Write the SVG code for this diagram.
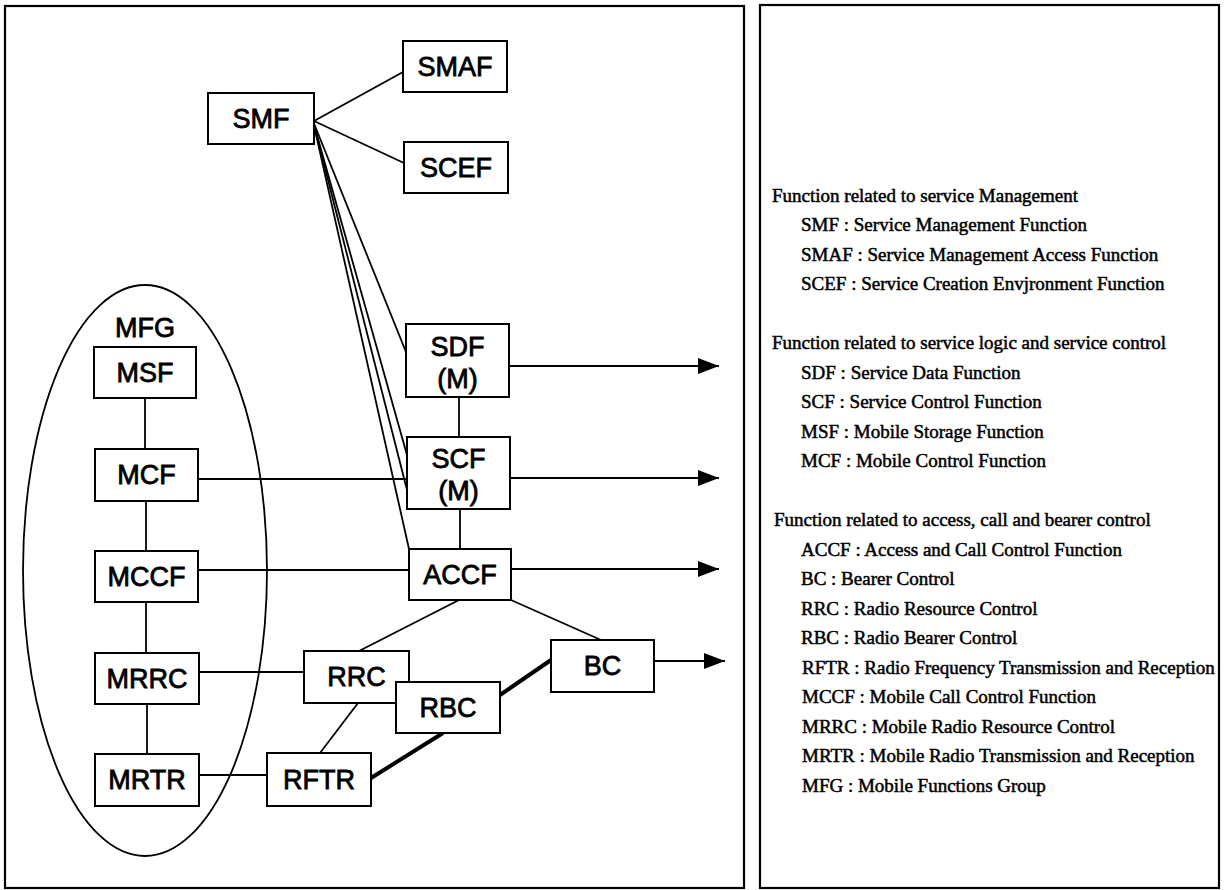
<svg xmlns="http://www.w3.org/2000/svg" width="1226" height="890" viewBox="0 0 1226 890">
<defs>
<marker id="arr" markerUnits="userSpaceOnUse" markerWidth="21" markerHeight="16" refX="21" refY="8" orient="auto">
<path d="M0,0 L21,8 L0,16 z" fill="#000"/>
</marker>
<style>
.panel{fill:none;stroke:#000;stroke-width:2.2}
.box{fill:#fff;stroke:#000;stroke-width:2}
.nt{font-family:"Liberation Sans",Arial,sans-serif;font-size:27px;text-anchor:middle;fill:#000;stroke:#000;stroke-width:0.8}
.ln{stroke:#000;stroke-width:1.8;fill:none}
.thick{stroke:#000;stroke-width:4;fill:none}
.ar{stroke:#000;stroke-width:2.2;fill:none;marker-end:url(#arr)}
.lg{font-family:"Liberation Serif","Times New Roman",serif;font-size:19px;fill:#000;stroke:#000;stroke-width:0.5}
</style>
</defs>
<rect fill="#fff" x="0" y="0" width="1226" height="890"/>
<g id="panels">
<rect class="panel" x="5" y="6" width="739" height="882"/>
<rect class="panel" x="760" y="5" width="459" height="883"/>
</g>
<g id="mfg">
<ellipse cx="145" cy="570.5" rx="122" ry="285.5" fill="none" stroke="#000" stroke-width="1.8"/>
<text class="nt" x="145" y="337">MFG</text>
</g>
<g id="connectors">
<line class="ln" x1="314" y1="121" x2="403" y2="72"/>
<line class="ln" x1="314" y1="121" x2="404" y2="163"/>
<line class="ln" x1="313" y1="121" x2="406" y2="352"/>
<line class="ln" x1="313" y1="121" x2="407" y2="455"/>
<line class="ln" x1="313" y1="121" x2="407" y2="490"/>
<line class="ln" x1="313" y1="121" x2="409" y2="549"/>
<line class="ln" x1="145" y1="398" x2="145" y2="449"/>
<line class="ln" x1="146" y1="501" x2="146" y2="551"/>
<line class="ln" x1="146" y1="602" x2="146" y2="653"/>
<line class="ln" x1="147" y1="704" x2="147" y2="754"/>
<line class="ln" x1="459" y1="397" x2="459" y2="437"/>
<line class="ln" x1="460" y1="509" x2="460" y2="549"/>
<line class="ln" x1="198" y1="479" x2="407" y2="479"/>
<line class="ln" x1="198" y1="570" x2="409" y2="570"/>
<line class="ln" x1="199" y1="672" x2="304" y2="672"/>
<line class="ln" x1="199" y1="775" x2="267" y2="775"/>
<line class="ln" x1="459" y1="600" x2="359" y2="651"/>
<line class="ln" x1="511" y1="600" x2="601" y2="640"/>
<line class="ln" x1="358" y1="703" x2="320" y2="753"/>
<line class="thick" x1="443" y1="733" x2="371" y2="778"/>
<line class="thick" x1="500" y1="695" x2="551" y2="660"/>
<line class="ar" x1="509" y1="366" x2="719" y2="366"/>
<line class="ar" x1="510" y1="478" x2="719" y2="478"/>
<line class="ar" x1="511" y1="569" x2="719" y2="569"/>
<line class="ar" x1="654" y1="661" x2="725" y2="661"/>
</g>
<g id="smf"><rect class="box" x="208" y="93" width="106" height="51"/><text class="nt" x="261" y="128">SMF</text></g>
<g id="smaf"><rect class="box" x="403" y="41" width="104" height="51"/><text class="nt" x="455" y="76">SMAF</text></g>
<g id="scef"><rect class="box" x="404" y="142" width="104" height="51"/><text class="nt" x="456" y="177">SCEF</text></g>
<g id="msf"><rect class="box" x="94" y="347" width="102" height="51"/><text class="nt" x="145" y="382">MSF</text></g>
<g id="mcf"><rect class="box" x="95" y="449" width="103" height="52"/><text class="nt" x="146.5" y="484">MCF</text></g>
<g id="mccf"><rect class="box" x="95" y="551" width="103" height="51"/><text class="nt" x="146.5" y="586">MCCF</text></g>
<g id="mrrc"><rect class="box" x="95" y="653" width="104" height="51"/><text class="nt" x="147" y="688">MRRC</text></g>
<g id="mrtr"><rect class="box" x="95" y="754" width="104" height="52"/><text class="nt" x="147" y="789">MRTR</text></g>
<g id="sdf"><rect class="box" x="406" y="324" width="103" height="73"/><text class="nt" x="457.5" y="356">SDF</text><text class="nt" x="457.5" y="388">(M)</text></g>
<g id="scf"><rect class="box" x="407" y="437" width="103" height="72"/><text class="nt" x="458.5" y="468">SCF</text><text class="nt" x="458.5" y="500">(M)</text></g>
<g id="accf"><rect class="box" x="409" y="549" width="102" height="51"/><text class="nt" x="460" y="584">ACCF</text></g>
<g id="rrc"><rect class="box" x="304" y="651" width="105" height="52"/><text class="nt" x="356.5" y="686">RRC</text></g>
<g id="rbc"><rect class="box" x="396" y="682" width="104" height="51"/><text class="nt" x="448" y="717">RBC</text></g>
<g id="bc"><rect class="box" x="551" y="640" width="103" height="52"/><text class="nt" x="602.5" y="675">BC</text></g>
<g id="rftr"><rect class="box" x="267" y="753" width="104" height="53"/><text class="nt" x="319" y="789">RFTR</text></g>
<g id="legend">
<text class="lg" x="772" y="201.5">Function related to service Management</text>
<text class="lg" x="801" y="231">SMF : Service Management Function</text>
<text class="lg" x="801" y="260.5">SMAF : Service Management Access Function</text>
<text class="lg" x="801" y="290">SCEF : Service Creation Envjronment Function</text>
<text class="lg" x="772" y="349">Function related to service logic and service control</text>
<text class="lg" x="801" y="378.5">SDF : Service Data Function</text>
<text class="lg" x="801" y="408">SCF : Service Control Function</text>
<text class="lg" x="801" y="437.5">MSF : Mobile Storage Function</text>
<text class="lg" x="801" y="467">MCF : Mobile Control Function</text>
<text class="lg" x="774" y="526">Function related to access, call and bearer control</text>
<text class="lg" x="801" y="555.5">ACCF : Access and Call Control Function</text>
<text class="lg" x="801" y="585">BC : Bearer Control</text>
<text class="lg" x="801" y="614.5">RRC : Radio Resource Control</text>
<text class="lg" x="801" y="644">RBC : Radio Bearer Control</text>
<text class="lg" x="802" y="673.5">RFTR : Radio Frequency Transmission and Reception</text>
<text class="lg" x="802" y="703">MCCF : Mobile Call Control Function</text>
<text class="lg" x="802" y="732.5">MRRC : Mobile Radio Resource Control</text>
<text class="lg" x="802" y="762">MRTR : Mobile Radio Transmission and Reception</text>
<text class="lg" x="802" y="791.5">MFG : Mobile Functions Group</text>
</g>
</svg>
